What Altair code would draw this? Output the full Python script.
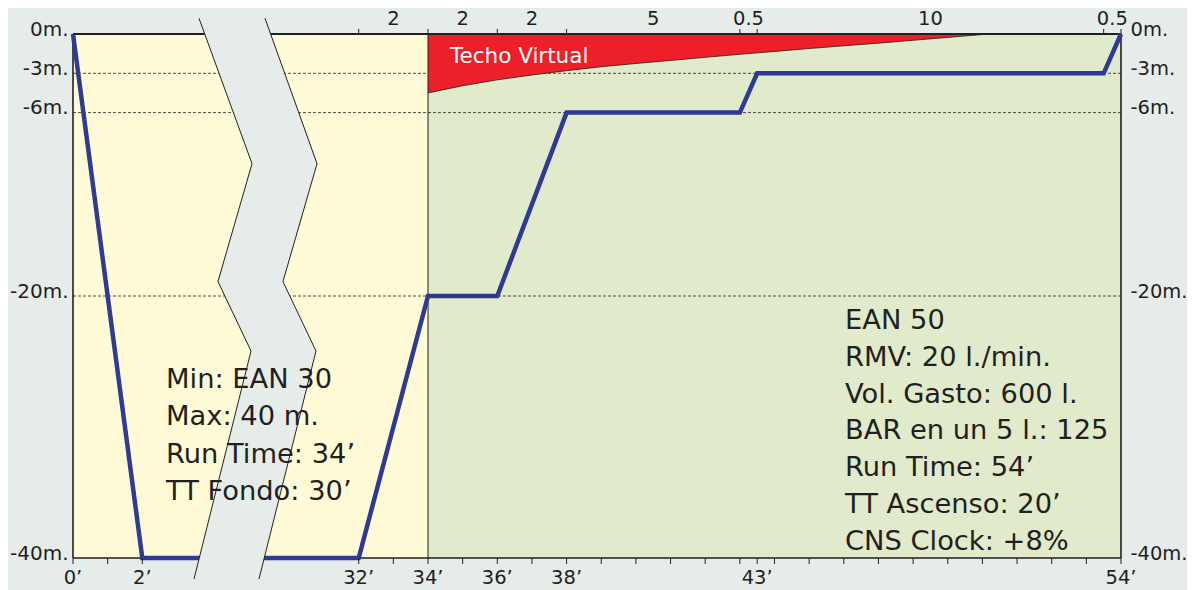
import altair as alt
import pandas as pd

# ---------------- data ----------------
# dive profile (run time in minutes, depth in metres)
profile_min = [0, 2, 32, 34, 36, 38, 43, 43.5, 53.5, 54]
profile_depth = [0, -40, -40, -20, -20, -6, -6, -3, -3, 0]

# "Techo Virtual" (virtual ceiling) lower boundary
ceiling_min = [34, 35, 36, 37, 38, 39, 40, 41, 42, 43, 44, 45, 46, 47, 48, 49, 50.2]
ceiling_depth = [-4.5, -3.95, -3.5, -3.13, -2.8, -2.5, -2.25, -2.02, -1.78, -1.55,
                 -1.33, -1.11, -0.9, -0.7, -0.48, -0.26, 0]

# background zones (bottom phase / ascent phase)
zone_start = [0, 34]
zone_end = [34, 54]
zone_color = ["#FFFBD6", "#E1EACA"]

depth_ticks = [0, -3, -6, -20, -40]
grid_depths = [-3, -6, -20]

minute_ticks = [0, 1, 2] + list(range(32, 55)) + [43.5]
label_minutes = [0, 2, 32, 34, 36, 38, 43.5, 54]
label_texts = ["0’", "2’", "32’", "34’", "36’", "38’", "43’", "54’"]

# stop boundaries (top axis) and durations written between them
stop_edges = [32, 34, 36, 38, 43, 43.5, 53.5, 54]
stop_lengths = ["2", "2", "2", "5", "0.5", "10", "0.5"]

# axis-break band outline (minutes / metres)
break_depth = [1.2, -9.9, -18.9, -24.2, -41.6]
break_left = [9.86, 17.21, 12.49, 17.07, 9.17]
break_right = [19.01, 26.22, 21.5, 26.08, 18.18]

left_notes = ["Min: EAN 30", "Max: 40 m.", "Run Time: 34’", "TT Fondo: 30’"]
right_notes = ["EAN 50", "RMV: 20 l./min.", "Vol. Gasto: 600 l.", "BAR en un 5 l.: 125",
               "Run Time: 54’", "TT Ascenso: 20’", "CNS Clock: +8%"]
ceiling_label = "Techo Virtual"

# ---------------- style ----------------
BG = "#E6ECE9"
DARK = "#231F20"
RED = "#ED2029"
BLUE = "#2E3A94"
FONT = "DejaVu Sans"

X_SCALE = alt.Scale(domain=[0, 2, 32, 54], range=[0, 69.3, 285.7, 1048], nice=False, zero=False)
Y_SCALE = alt.Scale(domain=[-40, 0], nice=False, zero=False)

left_axis = alt.Axis(values=depth_ticks, labelExpr="datum.value + 'm.'", title=None, grid=False,
                     domain=False, ticks=False, labelFont=FONT, labelFontSize=20, labelColor=DARK,
                     labelPadding=5, labelBaseline="alphabetic", labelOffset=1, labelOverlap=False,
                     labelFlush=False, labelBound=False)
right_axis = alt.Axis(values=depth_ticks, labelExpr="datum.value + 'm.'", title=None, grid=False,
                      orient="right", domain=False, ticks=False, labelFont=FONT, labelFontSize=19.5,
                      labelColor=DARK, labelPadding=9, labelBaseline="alphabetic", labelOffset=1,
                      labelOverlap=False, labelFlush=False, labelBound=False)

# ---------------- layers ----------------
zones = pd.DataFrame({"start": zone_start, "end": zone_end, "color": zone_color})
zones["bottom"] = -40
zones["top"] = 0
bg = alt.Chart(zones).mark_rect().encode(
    x=alt.X("start:Q", scale=X_SCALE, axis=None), x2="end:Q",
    y=alt.Y("bottom:Q", scale=Y_SCALE, axis=left_axis), y2="top:Q",
    fill=alt.Fill("color:N", scale=None),
)

grid_df = pd.DataFrame({"depth": grid_depths})
grid_df["x0"] = 0
grid_df["x1"] = 54
grid = alt.Chart(grid_df).mark_rule(strokeDash=[3, 2], strokeWidth=0.8, color=DARK).encode(
    x=alt.X("x0:Q", scale=X_SCALE, axis=None), x2="x1:Q",
    y=alt.Y("depth:Q", scale=Y_SCALE, axis=right_axis),
)

ceil_df = pd.DataFrame({"t": ceiling_min, "m": ceiling_depth})
ceil_df["top"] = 0
ceil = alt.Chart(ceil_df).mark_area(color=RED, opacity=1).encode(
    x=alt.X("t:Q", scale=X_SCALE, axis=None),
    y=alt.Y("m:Q", scale=Y_SCALE, axis=None), y2="top:Q",
)
ceil_line = alt.Chart(ceil_df).mark_line(color=DARK, strokeWidth=0.8).encode(
    x=alt.X("t:Q", scale=X_SCALE, axis=None),
    y=alt.Y("m:Q", scale=Y_SCALE, axis=None),
)

vb = pd.DataFrame({"t": [0, 34, 54], "w": [1.6, 1.0, 1.6]})
vb["lo"] = -40
vb["hi"] = 0
vborders = alt.Chart(vb).mark_rule(color=DARK).encode(
    x=alt.X("t:Q", scale=X_SCALE, axis=None),
    y=alt.Y("lo:Q", scale=Y_SCALE, axis=None), y2="hi:Q",
    strokeWidth=alt.StrokeWidth("w:Q", scale=None),
)
hb = pd.DataFrame({"m": [0, -40], "w": [2.0, 1.6]})
hb["x0"] = 0
hb["x1"] = 54
hborders = alt.Chart(hb).mark_rule(color=DARK).encode(
    x=alt.X("x0:Q", scale=X_SCALE, axis=None), x2="x1:Q",
    y=alt.Y("m:Q", scale=Y_SCALE, axis=None),
    strokeWidth=alt.StrokeWidth("w:Q", scale=None),
)

prof_df = pd.DataFrame({"t": profile_min, "m": profile_depth, "i": range(len(profile_min))})
profile = alt.Chart(prof_df).mark_line(color=BLUE, strokeWidth=4.5, strokeJoin="miter").encode(
    x=alt.X("t:Q", scale=X_SCALE, axis=None),
    y=alt.Y("m:Q", scale=Y_SCALE, axis=None),
    order="i:Q",
)

band_df = pd.DataFrame({"depth": break_depth, "left": break_left, "right": break_right,
                        "i": range(len(break_depth))})
band = alt.Chart(band_df).mark_area(orient="horizontal", color=BG, opacity=1).encode(
    y=alt.Y("depth:Q", scale=Y_SCALE, axis=None),
    x=alt.X("left:Q", scale=X_SCALE, axis=None), x2="right:Q",
)
band_l = alt.Chart(band_df).mark_line(color=DARK, strokeWidth=1).encode(
    x=alt.X("left:Q", scale=X_SCALE, axis=None),
    y=alt.Y("depth:Q", scale=Y_SCALE, axis=None), order="i:Q",
)
band_r = alt.Chart(band_df).mark_line(color=DARK, strokeWidth=1).encode(
    x=alt.X("right:Q", scale=X_SCALE, axis=None),
    y=alt.Y("depth:Q", scale=Y_SCALE, axis=None), order="i:Q",
)

# top axis: stop boundaries and durations
top_ticks = alt.Chart(pd.DataFrame({"t": stop_edges})).mark_rule(color=DARK, strokeWidth=1).encode(
    x=alt.X("t:Q", scale=X_SCALE, axis=None),
    y=alt.value(-5), y2=alt.value(0),
)
mids = [(a + b) / 2 for a, b in zip(stop_edges[:-1], stop_edges[1:])]
top_labels = alt.Chart(pd.DataFrame({"t": mids, "lab": stop_lengths})).mark_text(
    font=FONT, fontSize=19.5, color=DARK, align="center", baseline="alphabetic"
).encode(
    x=alt.X("t:Q", scale=X_SCALE, axis=None),
    y=alt.value(-9), text="lab:N",
)

# bottom axis: run-time ticks and labels
bot_ticks = alt.Chart(pd.DataFrame({"t": minute_ticks})).mark_rule(color=DARK, strokeWidth=1).encode(
    x=alt.X("t:Q", scale=X_SCALE, axis=None),
    y=alt.value(524), y2=alt.value(530),
)
bot_labels = alt.Chart(pd.DataFrame({"t": label_minutes, "lab": label_texts})).mark_text(
    font=FONT, fontSize=19.5, color=DARK, align="center", baseline="alphabetic"
).encode(
    x=alt.X("t:Q", scale=X_SCALE, axis=None),
    y=alt.value(550), text="lab:N",
)

one = pd.DataFrame({"a": [0]})
techo = alt.Chart(one).mark_text(font=FONT, fontSize=21.5, color="white", align="left",
                                 baseline="alphabetic").encode(
    x=alt.value(377), y=alt.value(29), text=alt.value(ceiling_label))
left_txt = alt.Chart(one).mark_text(font=FONT, fontSize=27.3, color=DARK, align="left",
                                    baseline="alphabetic", lineHeight=37.3).encode(
    x=alt.value(93), y=alt.value(354), text=alt.value(left_notes))
right_txt = alt.Chart(one).mark_text(font=FONT, fontSize=27.3, color=DARK, align="left",
                                     baseline="alphabetic", lineHeight=36.8).encode(
    x=alt.value(772), y=alt.value(295), text=alt.value(right_notes))

chart = alt.layer(
    bg, grid, ceil, ceil_line, vborders, hborders, profile, band, band_l, band_r,
    top_ticks, top_labels, bot_ticks, bot_labels, techo, left_txt, right_txt,
).resolve_axis(y="independent").properties(
    width=1048, height=524,
    padding={"left": 65, "top": 26, "right": 66, "bottom": 32},
    autosize=alt.AutoSizeParams(type="none"),
    background=BG,
).configure_view(stroke=None)

chart.save("out.html", embed_options={"renderer": "svg", "actions": False})
